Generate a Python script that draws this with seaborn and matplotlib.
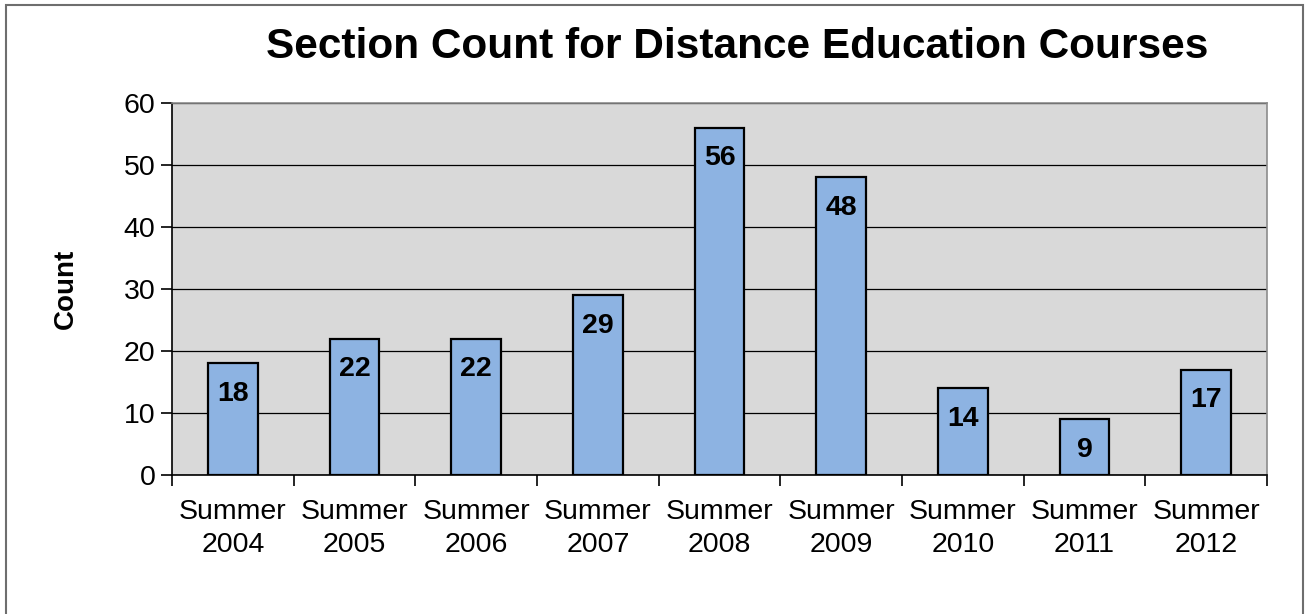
import numpy as np
import pandas as pd
from matplotlib import pyplot as plt
from matplotlib.patches import Rectangle
import seaborn as sns

# data
terms = ["Summer\n2004", "Summer\n2005", "Summer\n2006", "Summer\n2007", "Summer\n2008",
         "Summer\n2009", "Summer\n2010", "Summer\n2011", "Summer\n2012"]
counts = [18, 22, 22, 29, 56, 48, 14, 9, 17]
yticks = [0, 10, 20, 30, 40, 50, 60]

df = pd.DataFrame({"term": terms, "count": counts})

sns.set_style("white")
plt.rcParams['font.family'] = ['Liberation Sans', 'DejaVu Sans']
plt.rcParams['text.color'] = 'black'
plt.rcParams['axes.labelcolor'] = 'black'
plt.rcParams['xtick.color'] = 'black'
plt.rcParams['ytick.color'] = 'black'

fig = plt.figure(figsize=(13.09, 6.14), dpi=100)
ax = fig.add_axes([172/1309, 1-475/614, (1267-172)/1309, (475-103)/614])
ax.set_facecolor("#D9D9D9")

sns.barplot(data=df, x="term", y="count", color="#8DB3E2", edgecolor="black",
            linewidth=1.6, width=0.41, saturation=1, ax=ax, zorder=3)

# bar labels
for i, v in enumerate(counts):
    ax.annotate(str(v), (i, v), xytext=(0, -22), textcoords="offset points",
                ha="center", va="center", fontsize=20.5, fontweight="bold",
                color="black", zorder=4)

ax.set_ylim(0, 60)
ax.set_xlim(-0.5, len(terms) - 0.5)
ax.set_yticks(yticks)
ax.yaxis.grid(True, color="black", linewidth=0.9, zorder=0)
ax.set_axisbelow(True)

# ticks between categories
ax.set_xticks(np.arange(len(terms)))
ax.set_xticklabels(terms, fontsize=20.5, linespacing=1.38, color="black")
ax.set_xticks(np.arange(len(terms) + 1) - 0.5, minor=True)
ax.tick_params(axis="x", which="major", length=0, pad=17)
ax.tick_params(axis="x", which="minor", bottom=True, length=8, width=1.2,
               direction="out", color="black")
ax.tick_params(axis="y", which="major", left=True, length=8, width=1.2,
               direction="out", color="black", labelsize=20.5, pad=4)

for s in ["left", "bottom"]:
    ax.spines[s].set_color("black")
    ax.spines[s].set_linewidth(1.2)
for s in ["top", "right"]:
    ax.spines[s].set_color("#8C8C8C")
    ax.spines[s].set_linewidth(1.2)

ax.set_xlabel("")
ax.set_ylabel("Count", fontsize=20, fontweight="bold", labelpad=32, color="black")

fig.text(737/1309, 1-47/614, "Section Count for Distance Education Courses",
         ha="center", va="center", fontsize=30.5, fontweight="bold", color="black")

# outer chart frame
fig.patches.append(Rectangle((6/1309, -0.02), (1303-6)/1309, 1.02-5/614,
                             transform=fig.transFigure, fill=False,
                             edgecolor="#6E6E6E", linewidth=1.5))

plt.savefig("out.png", dpi=100)
